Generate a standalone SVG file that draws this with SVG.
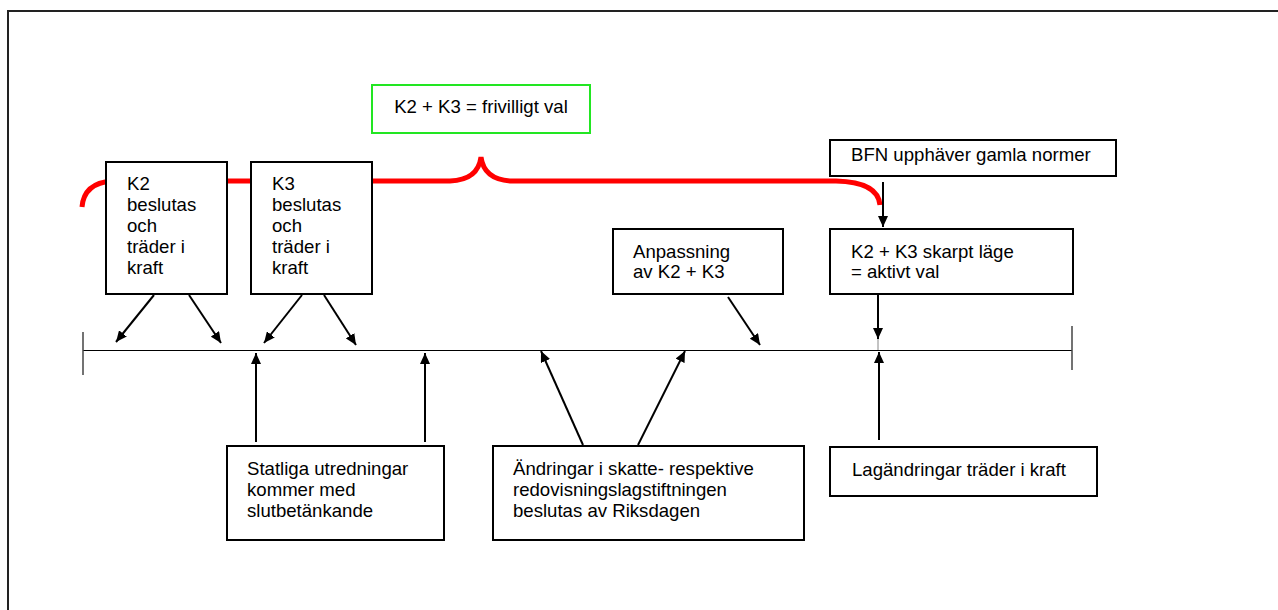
<svg xmlns="http://www.w3.org/2000/svg" width="1278" height="610" viewBox="0 0 1278 610">
<defs>
<marker id="ah" markerUnits="userSpaceOnUse" markerWidth="12" markerHeight="10" refX="11" refY="5" orient="auto">
<path d="M0,0 L11,5 L0,10 Z" fill="#000"/>
</marker>
<style>
.box{fill:#fff;stroke:#000;stroke-width:2}
.gbox{fill:#fff;stroke:#22e622;stroke-width:2}
.t{font-family:"Liberation Sans",Arial,sans-serif;font-size:18.6px;fill:#000}
.ar{stroke:#000;stroke-width:2;fill:none;marker-end:url(#ah)}
.ln{stroke:#000;stroke-width:1;fill:none}
.tick{stroke:#444;stroke-width:1.5;fill:none}
</style>
</defs>
<rect width="1278" height="610" fill="#fff"/>
<path d="M8,610 V11 H1278" fill="none" stroke="#222" stroke-width="2"/>

<g id="brace">
<path d="M82,207 Q84,183 112,181 L450,181 Q478,180 481,157 Q484,180 512,181 L836,181 Q878,182 880,205" fill="none" stroke="#ff0000" stroke-width="5"/>
</g>

<g id="timeline">
<line class="ln" x1="83" y1="350.5" x2="1072" y2="350.5"/>
<line class="tick" x1="83" y1="332" x2="83" y2="375"/>
<line class="tick" x1="1072" y1="326" x2="1072" y2="370"/>
</g>

<g id="connectors">
<line class="ar" x1="154" y1="295" x2="116" y2="342"/>
<line class="ar" x1="189" y1="295" x2="221" y2="343"/>
<line class="ar" x1="302" y1="295" x2="264" y2="343"/>
<line class="ar" x1="324" y1="295" x2="356" y2="345"/>
<line class="ar" x1="728" y1="297" x2="760" y2="345"/>
<line class="ar" x1="883" y1="182" x2="883" y2="227"/>
<line class="ar" x1="878" y1="294" x2="878" y2="339"/>
<line x1="878" y1="339" x2="878" y2="350" stroke="#888" stroke-width="1"/>
<line class="ar" x1="256" y1="442" x2="256" y2="353"/>
<line class="ar" x1="425" y1="442" x2="425" y2="353"/>
<line class="ar" x1="583" y1="445" x2="541" y2="351"/>
<line class="ar" x1="638" y1="445" x2="685" y2="351"/>
<line class="ar" x1="879" y1="440" x2="879" y2="352"/>
</g>

<g id="k2">
<rect class="box" x="106" y="162" width="121" height="132"/>
<text class="t" x="127" y="190">K2</text>
<text class="t" x="127" y="211">beslutas</text>
<text class="t" x="127" y="232">och</text>
<text class="t" x="127" y="253">träder i</text>
<text class="t" x="127" y="274">kraft</text>
</g>

<g id="k3">
<rect class="box" x="251" y="162" width="121" height="132"/>
<text class="t" x="272" y="190">K3</text>
<text class="t" x="272" y="211">beslutas</text>
<text class="t" x="272" y="232">och</text>
<text class="t" x="272" y="253">träder i</text>
<text class="t" x="272" y="274">kraft</text>
</g>

<g id="frivilligt">
<rect class="gbox" x="372" y="85" width="218" height="48"/>
<text class="t" x="481" y="113" text-anchor="middle">K2 + K3 = frivilligt val</text>
</g>

<g id="bfn">
<rect class="box" x="830" y="140" width="286" height="36"/>
<text class="t" x="851" y="161">BFN upphäver gamla normer</text>
</g>

<g id="anpassning">
<rect class="box" x="613" y="229" width="170" height="65"/>
<text class="t" x="633" y="258">Anpassning</text>
<text class="t" x="633" y="278">av K2 + K3</text>
</g>

<g id="skarpt">
<rect class="box" x="830" y="229" width="243" height="65"/>
<text class="t" x="851" y="258">K2 + K3 skarpt läge</text>
<text class="t" x="851" y="278">= aktivt val</text>
</g>

<g id="statliga">
<rect class="box" x="227" y="446" width="217" height="94"/>
<text class="t" x="247" y="475">Statliga utredningar</text>
<text class="t" x="247" y="496">kommer med</text>
<text class="t" x="247" y="517">slutbetänkande</text>
</g>

<g id="andringar">
<rect class="box" x="493" y="446" width="311" height="94"/>
<text class="t" x="513" y="475">Ändringar i skatte- respektive</text>
<text class="t" x="513" y="496">redovisningslagstiftningen</text>
<text class="t" x="513" y="517">beslutas av Riksdagen</text>
</g>

<g id="lagandringar">
<rect class="box" x="830" y="447" width="267" height="49"/>
<text class="t" x="852" y="476">Lagändringar träder i kraft</text>
</g>
</svg>
